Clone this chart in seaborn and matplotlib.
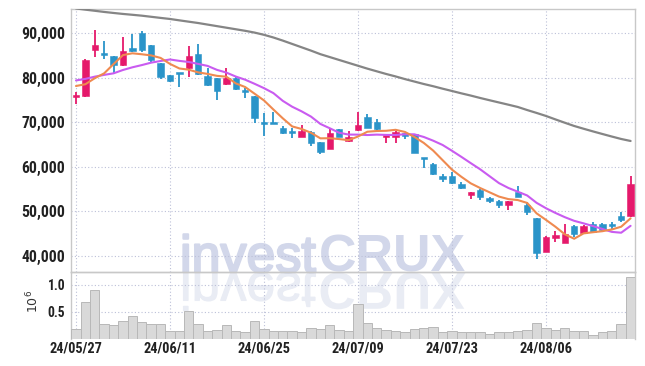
import matplotlib
matplotlib.use("Agg")
import numpy as np
import pandas as pd
import matplotlib.pyplot as plt
import matplotlib.patheffects as pe
import seaborn as sns
from matplotlib.textpath import TextPath
from matplotlib.patches import PathPatch
from matplotlib.font_manager import FontProperties, fontManager
from matplotlib.transforms import Affine2D, IdentityTransform

# 일봉 데이터 (24/05/27 ~ 24/08/20), 가격 단위: 원, 거래량 단위: 10^6
opens = [75600, 75800, 86300, 85400, 84900, 82900, 86700, 90000, 87400, 83300,
         80600, 81000, 82100, 85300, 80400, 80000, 78550, 80000, 77000, 75900,
         69750, 70150, 68800, 67900, 66650, 67900, 65650, 64100, 68400, 65850,
         68350, 71100, 70000, 66600, 66750, 67550, 67400, 62050, 60650, 58000,
         57950, 56150, 53600, 54800, 53000, 52300, 51500, 54400, 51400, 48400,
         40950, 44050, 42950, 46750, 45050, 47150, 47150, 47150, 48900, 48850]
highs = [76900, 84300, 90800, 88300, 85000, 89100, 89800, 90600, 87400, 83400,
         80600, 81150, 87200, 87600, 82200, 80000, 82100, 80500, 77650, 75900,
         72000, 72250, 69250, 68700, 69400, 68000, 65650, 68650, 68400, 68100,
         72400, 71850, 70700, 67000, 67950, 67550, 67400, 62050, 60900, 58400,
         58750, 56650, 54350, 55000, 53200, 52550, 52300, 55750, 52000, 48500,
         44450, 45650, 47100, 47000, 46900, 47500, 47400, 47500, 49900, 57950]
lows = [74100, 75600, 84600, 84200, 80800, 82700, 85900, 85900, 83600, 79700,
        79000, 78000, 80250, 80600, 78200, 75000, 78400, 77200, 75550, 69800,
        66900, 69600, 67400, 66400, 66650, 64700, 62800, 64100, 66600, 65550,
        68050, 68700, 68200, 65300, 65300, 66200, 63200, 59650, 58200, 56600,
        56200, 55000, 52700, 52550, 51850, 50700, 50300, 53300, 49100, 39200,
        40950, 43050, 42800, 44300, 44900, 45200, 45500, 46100, 47700, 48700]
closes = [75900, 84000, 87400, 85200, 82900, 86000, 86000, 86300, 83900, 80100,
          79300, 80850, 84900, 80900, 78400, 77100, 79900, 77400, 76800, 70900,
          69550, 69700, 67500, 67700, 68050, 65300, 63400, 67650, 66750, 66800,
          69400, 68800, 68450, 67000, 67900, 67000, 63200, 61700, 58400, 57200,
          56300, 55150, 54350, 53150, 52400, 51500, 52300, 53300, 49900, 40700,
          44150, 44650, 44800, 44900, 46700, 45450, 45800, 46750, 48000, 56150]
volume = [0.19, 0.69, 0.90, 0.27, 0.25, 0.34, 0.43, 0.32, 0.27, 0.28,
          0.14, 0.15, 0.52, 0.28, 0.14, 0.16, 0.25, 0.15, 0.12, 0.34,
          0.19, 0.14, 0.14, 0.14, 0.12, 0.21, 0.19, 0.25, 0.16, 0.14,
          0.65, 0.30, 0.21, 0.17, 0.14, 0.12, 0.19, 0.21, 0.23, 0.13,
          0.14, 0.13, 0.12, 0.12, 0.10, 0.12, 0.13, 0.14, 0.17, 0.29,
          0.21, 0.16, 0.21, 0.14, 0.14, 0.08, 0.12, 0.14, 0.27, 1.14]
ma5 = [78150, 78550, 79900, 81000, 83080, 85100, 85500, 85280, 85020, 84460,
       83120, 82090, 81810, 81210, 80870, 80430, 80240, 78740, 77920, 76420,
       74910, 72870, 70890, 69070, 68500, 67650, 66390, 66420, 66230, 65980,
       66800, 67880, 68040, 68090, 68310, 67830, 66710, 65360, 63640, 61500,
       59360, 57750, 56280, 55230, 54270, 53310, 52740, 52530, 51880, 49540,
       48070, 46540, 44840, 43840, 45040, 45300, 45530, 45920, 46540, 48430]
ma10 = [79400, 79750, 80250, 80650, 81000, 81750, 82350, 82850, 83400, 83770,
        84110, 83795, 83545, 83115, 82665, 81775, 81165, 80275, 79565, 78645,
        77670, 76555, 74815, 73495, 72460, 71280, 69630, 68655, 67650, 67240,
        67225, 67135, 67230, 67160, 67145, 67315, 67295, 66700, 65865, 64905,
        63595, 62230, 60820, 59435, 57885, 56335, 55245, 54405, 53555, 51905,
        50690, 49640, 48685, 47860, 47290, 46685, 46035, 45380, 45190, 46735]
ma_long = [95570, 95300, 95050, 94790, 94560, 94340, 94150, 93950, 93700, 93450,
           93210, 92900, 92600, 92300, 91950, 91600, 91250, 90900, 90550, 90150,
           89650, 89050, 88350, 87600, 86850, 86100, 85300, 84650, 84000, 83350,
           82700, 82050, 81450, 80850, 80300, 79700, 79150, 78600, 78100, 77550,
           77030, 76500, 76000, 75460, 74950, 74450, 73950, 73440, 72750, 72100,
           71420, 70650, 69900, 69170, 68550, 67950, 67370, 66800, 66250, 65800]
date_ticks = [0, 10, 20, 30, 40, 50]
date_labels = ["24/05/27", "24/06/11", "24/06/25", "24/07/09", "24/07/23", "24/08/06"]
price_ticks = [40000, 50000, 60000, 70000, 80000, 90000]
vol_ticks = [0.5, 1.0]

UP = "#e5196b"
DOWN = "#2a94c9"
GRID = "#bcc0d8"
SPINE = "#c8c8c8"
WM = "#d2d7ea"

df = pd.DataFrame({"i": np.arange(len(closes)), "open": opens, "high": highs,
                   "low": lows, "close": closes, "vol": volume,
                   "ma5": ma5, "ma10": ma10, "ma_long": ma_long})

sns.set_theme(style="white")

# 눈금 글꼴: 좁은 글꼴이 있으면 사용, 없으면 Roboto
installed = {f.name for f in fontManager.ttflist}
if "Liberation Sans Narrow" in installed:
    tick_font, scale = "Liberation Sans Narrow", 1.0
elif "Roboto Condensed" in installed:
    tick_font, scale = "Roboto Condensed", 0.9
else:
    tick_font, scale = "Roboto", 0.82
plt.rcParams['font.family'] = [tick_font, 'DejaVu Sans']

W, H = 645, 366
fig = plt.figure(figsize=(W / 100, H / 100), dpi=100)
fig.patch.set_facecolor("white")


def box(x0, y0, x1, y1):
    return [x0 / W, 1 - y1 / H, (x1 - x0) / W, (y1 - y0) / H]


ax = fig.add_axes(box(71, 9, 635, 272))
axv = fig.add_axes(box(71, 272, 635, 339), sharex=ax)
for a in (ax, axv):
    a.set_facecolor("none")

# 워터마크 (축 뒤에 그림)
wm_size = 52
base_x, base_y = 180, H - 272
wm_reg = FontProperties(family="Liberation Sans")
wm_bold = FontProperties(family="Liberation Sans", weight="bold")
tp_reg = TextPath((0, 0), "invest", size=wm_size, prop=wm_reg)
adv = tp_reg.get_extents().x1 + 3
tp_bold = TextPath((0, 0), "CRUX", size=wm_size, prop=wm_bold)
fig.text(base_x / W, base_y / H, "invest", family="Liberation Sans", size=wm_size * 0.72,
         color=WM, ha="left", va="baseline", zorder=-2,
         path_effects=[pe.withStroke(linewidth=1.6, foreground=WM)])
fig.text((base_x + adv) / W, base_y / H, "CRUX", family="Liberation Sans", weight="bold",
         size=wm_size * 0.72, color=WM, ha="left", va="baseline", zorder=-2)
for tp, dx in ((tp_reg, 0), (tp_bold, adv)):
    refl = PathPatch(tp, facecolor="#e9ecf4", edgecolor="#e9ecf4",
                     linewidth=0.8 if dx == 0 else 0, zorder=-2)
    refl.set_transform(Affine2D().scale(1, -1).translate(base_x + dx, base_y - 1)
                       + IdentityTransform())
    fig.add_artist(refl)

# 캔들
cols = [UP if c >= o else DOWN for o, c in zip(df["open"], df["close"])]
body_lo = np.minimum(df["open"], df["close"])
body_h = np.maximum(np.abs(df["close"] - df["open"]), 450)
ax.vlines(df["i"], df["low"], df["high"], colors=cols, linewidth=1.3, zorder=2)
ax.bar(df["i"], body_h, bottom=body_lo, width=0.68, color=cols, edgecolor=cols,
       linewidth=0.4, zorder=3)

# 이동평균선
sns.lineplot(data=df, x="i", y="ma_long", color="#858585", linewidth=1.6, ax=ax, zorder=4)
sns.lineplot(data=df, x="i", y="ma10", color="#c95bf0", linewidth=1.5, ax=ax, zorder=4)
sns.lineplot(data=df, x="i", y="ma5", color="#ef8a50", linewidth=1.5, ax=ax, zorder=4)

ax.set_xlim(-0.53, 59.47)
ax.set_ylim(36365, 95450)
ax.set_yticks(price_ticks)
ax.set_yticklabels([f"{v:,}" for v in price_ticks])
ax.set_xticks(date_ticks)
ax.tick_params(axis="x", labelbottom=False, length=0)
ax.tick_params(axis="y", length=0, pad=4, labelsize=12.6 * scale, labelcolor="#222222")
for lab in ax.get_yticklabels():
    lab.set_fontweight("bold")
ax.grid(True, linestyle=(0, (1, 2)), color=GRID, linewidth=0.8)
ax.set_xlabel("")
ax.set_ylabel("")
for s in ax.spines.values():
    s.set_color(SPINE)
    s.set_linewidth(1.0)

# 거래량
sns.barplot(data=df, x="i", y="vol", native_scale=True, width=1.0, color="#d9d9d9",
            edgecolor="#b8b8b8", linewidth=0.7, saturation=1, ax=axv, zorder=3)
axv.set_xlim(-0.53, 59.47)
axv.set_ylim(0, 1.235)
axv.set_yticks(vol_ticks)
axv.set_yticklabels(["0.5", "1.0"])
axv.set_xticks(date_ticks)
axv.set_xticklabels(date_labels)
axv.tick_params(axis="x", length=0, pad=2, labelsize=11.5 * scale, labelcolor="#222222")
axv.tick_params(axis="y", length=0, pad=4, labelsize=10.8 * scale, labelcolor="#222222")
for lab in axv.get_xticklabels() + axv.get_yticklabels():
    lab.set_fontweight("bold")
axv.grid(True, linestyle=(0, (1, 2)), color=GRID, linewidth=0.8)
axv.set_xlabel("")
axv.set_ylabel("")
for s in axv.spines.values():
    s.set_color(SPINE)
    s.set_linewidth(1.0)
axv.spines["bottom"].set_visible(False)

fig.text(33 / W, 1 - 301 / H, "10$^6$", rotation=90, ha="center", va="center",
         fontsize=9, color="#333333", family="DejaVu Sans")

fig.savefig("out.png", dpi=100)
